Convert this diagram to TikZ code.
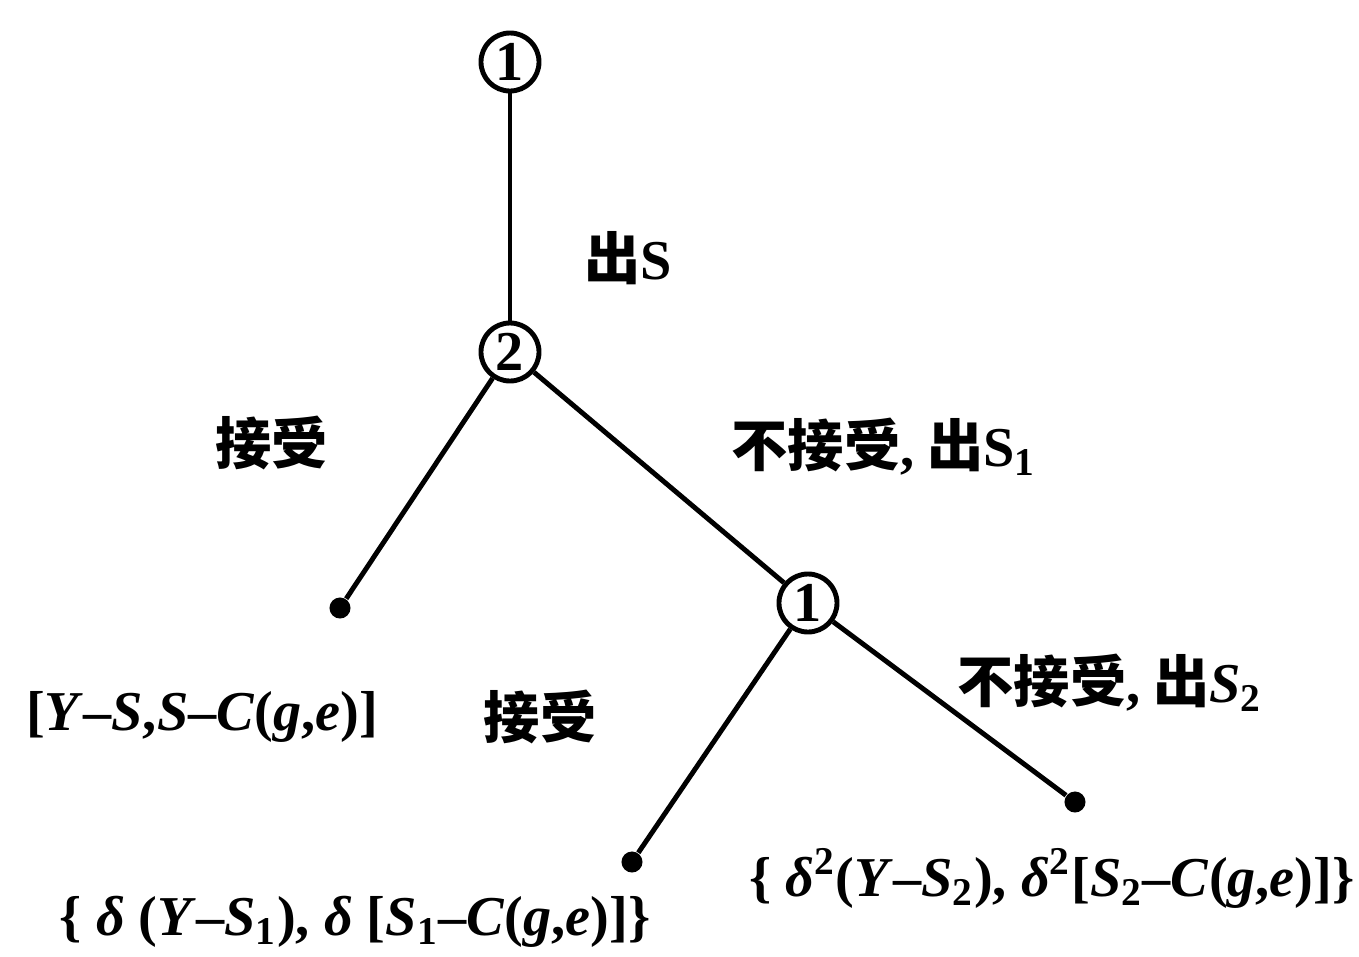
\documentclass[tikz,border=0pt]{standalone}
\usepackage{fontspec}
\setmainfont{Liberation Serif}
\newfontfamily\cjk{Noto Sans CJK SC}
\usepackage{xcolor}
\usetikzlibrary{positioning}

\begin{document}
\begin{tikzpicture}[x=0.01cm, y=-0.01cm,
    decision/.style={circle, draw, line width=1.4pt, minimum size=0.58cm, inner sep=0pt, font=\bfseries\fontsize{16}{16}\selectfont},
    leaf/.style={circle, fill, minimum size=0.21cm, inner sep=0pt},
    zh/.style={font=\cjk\bfseries\fontsize{16}{16}\selectfont, inner sep=0pt},
    pay/.style={font=\bfseries\fontsize{16}{16}\selectfont, inner sep=0pt},
    edge/.style={line width=1.4pt}
  ]
    \useasboundingbox (0,0) rectangle (1359,957);

    % players
    \node[decision] (p1) at (510,62) {1};
    \node[decision] (p2) at (510,352) {2};
    \node[decision] (p1b) at (808,603) {1};

    % end points
    \node[leaf] (endA) at (340,608) {};
    \node[leaf] (endB) at (632,862) {};
    \node[leaf] (endC) at (1075,802) {};

    \draw[edge] (p1) -- (p2);
    \draw[edge] (p2) -- (endA);
    \draw[edge] (p2) -- (p1b);
    \draw[edge] (p1b) -- (endB);
    \draw[edge] (p1b) -- (endC);

    % moves
    \node[zh] (offer) at (628,258) {出\textrm{\textbf{S}}};
    \node[zh] (acceptA) at (272,443) {接受};
    \node[zh] (rejectA) at (884,447) {不接受\textrm{\textbf{,}} 出\textrm{\textbf{S\textsubscript{1}}}};
    \node[zh] (acceptB) at (540,717) {接受};
    \node[zh] (rejectB) at (1110,683) {不接受\textrm{\textbf{,}} 出\textrm{\textbf{\textit{S}\textsubscript{2}}}};

    % payoffs
    \node[pay] (payA) at (202,717) {[\textit{Y}–\textit{S},\textit{S}–\textit{C}(\textit{g},\textit{e})]};
    \node[pay] (payB) at (355,922) {\{ \textit{δ} (\textit{Y}–\textit{S}\textsubscript{1}), \textit{δ} [\textit{S}\textsubscript{1}–\textit{C}(\textit{g},\textit{e})]\}};
    \node[pay] (payC) at (1052,878) {\{ \textit{δ}\textsuperscript{2}(\textit{Y}–\textit{S}\textsubscript{2}), \textit{δ}\textsuperscript{2}[\textit{S}\textsubscript{2}–\textit{C}(\textit{g},\textit{e})]\}};

\end{tikzpicture}
\end{document}
